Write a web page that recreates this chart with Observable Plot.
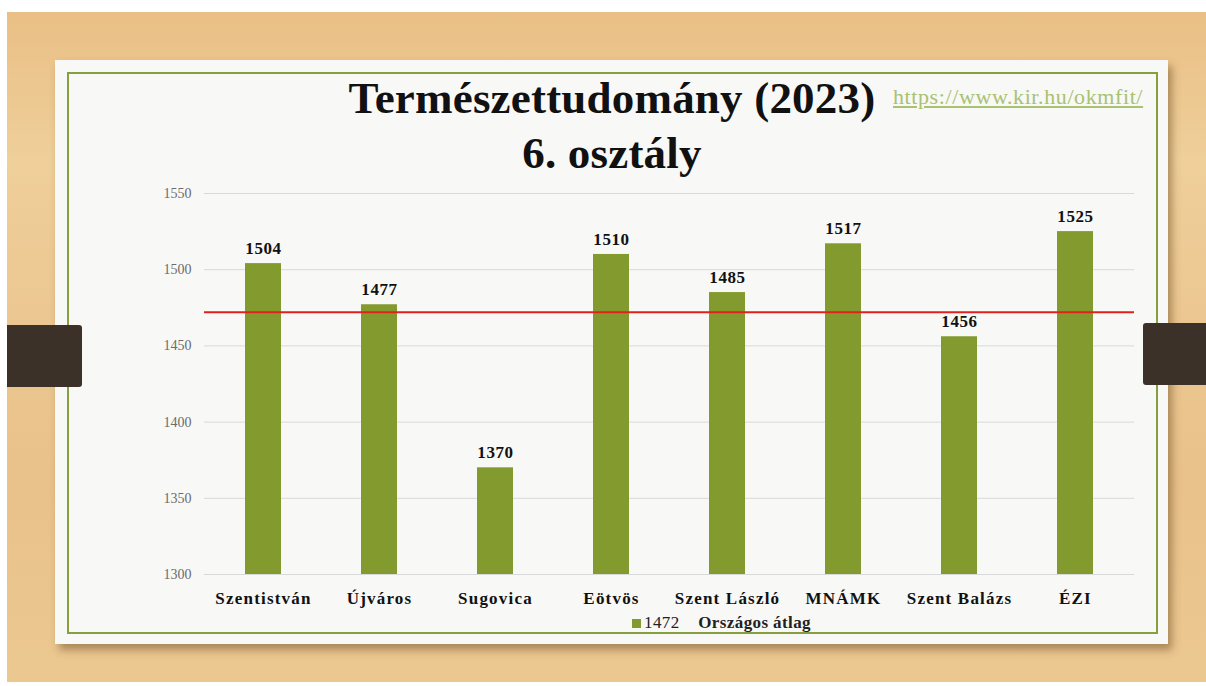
<!DOCTYPE html>
<html><head><meta charset="utf-8">
<script src="https://cdn.jsdelivr.net/npm/d3@7"></script>
<script src="https://cdn.jsdelivr.net/npm/@observablehq/plot@0.6"></script>
<style>
html,body{margin:0;padding:0;background:#fff;width:1206px;height:686px;overflow:hidden;font-family:"Liberation Serif",serif;}
#wood{position:absolute;left:7px;top:12px;width:1199px;height:670px;
 background:linear-gradient(180deg,#e9bf85 0%,#efcf9a 22%,#ecc791 45%,#e9c18a 70%,#ecc891 100%);}
#card{position:absolute;left:55px;top:60px;width:1113px;height:584px;background:#f8f8f7;box-shadow:4px 6px 8px rgba(90,60,20,0.45);}
#frame{position:absolute;left:67px;top:72px;width:1087px;height:558px;border:2px solid #86a040;}
.tab{position:absolute;background:#3b3128;height:62px;}
#title{position:absolute;left:262px;width:700px;top:71px;text-align:center;font-weight:bold;font-size:45px;line-height:55px;color:#111;letter-spacing:0.2px;}
#link{position:absolute;left:893px;top:84px;font-size:22px;color:#a9c270;text-decoration:underline;letter-spacing:0.6px;}
#chart{position:absolute;left:67px;top:170px;}
#chart g.xl text{letter-spacing:1.2px;}
#chart g.vl text{letter-spacing:0.6px;}
#legend{position:absolute;left:632px;top:613px;font-size:17px;font-weight:bold;color:#222;display:flex;align-items:center;letter-spacing:0.4px;}
#legend .sw{width:9px;height:9px;background:#829a2e;margin-right:3px;}
</style></head>
<body>
<div id="wood"></div>
<div id="card"></div>
<div id="frame"></div>
<div class="tab" style="left:7px;top:325px;width:75px;border-radius:0 3px 3px 0;"></div>
<div class="tab" style="left:1143px;top:323px;width:63px;border-radius:3px 0 0 3px;"></div>
<div id="title">Természettudomány (2023)<br>6. osztály</div>
<div id="link">https://www.kir.hu/okmfit/</div>
<div id="chart"></div>
<div id="legend"><span class="sw"></span><span style="font-weight:normal">1472</span>&nbsp;&nbsp;&nbsp;&nbsp;Országos átlag</div>
<script>
const schools = ["Szentistván","Újváros","Sugovica","Eötvös","Szent László","MNÁMK","Szent Balázs","ÉZI"];
const scores = [1504,1477,1370,1510,1485,1517,1456,1525];
const average = 1472;
const yTicks = [1300,1350,1400,1450,1500,1550];

const data = schools.map((s,i)=>({school:s, score:scores[i]}));

const chart = Plot.plot({
  width:1090, height:440,
  marginLeft:137, marginRight:23, marginTop:23, marginBottom:36,
  style:{background:"transparent", fontFamily:"Liberation Serif, serif"},
  x:{domain:schools, paddingInner:0.69, paddingOuter:0.345, label:null},
  y:{domain:[1300,1550], ticks:yTicks, label:null, tickFormat:"d"},
  marks:[
    Plot.gridY(yTicks,{stroke:"#d9d9d9", strokeOpacity:1}),
    Plot.axisY(yTicks,{tickSize:0, tickPadding:13, fontSize:14, fill:"#6b6b6b", label:null, tickFormat:"d"}),
    Plot.barY(data,{x:"school", y1:1300, y2:"score", fill:"#829a2e"}),
    Plot.text(data,{x:"school", y:"score", text:d=>String(d.score), dy:-15, fontSize:17, fontWeight:"bold", fill:"#111", className:"vl"}),
    Plot.ruleY([average],{stroke:"#e3201b", strokeWidth:2}),
    Plot.axisX({tickSize:0, tickPadding:17, fontSize:17, fontWeight:"bold", fill:"#111", label:null, className:"xl"})
  ]
});
document.getElementById("chart").appendChild(chart);
</script>
</body></html>
